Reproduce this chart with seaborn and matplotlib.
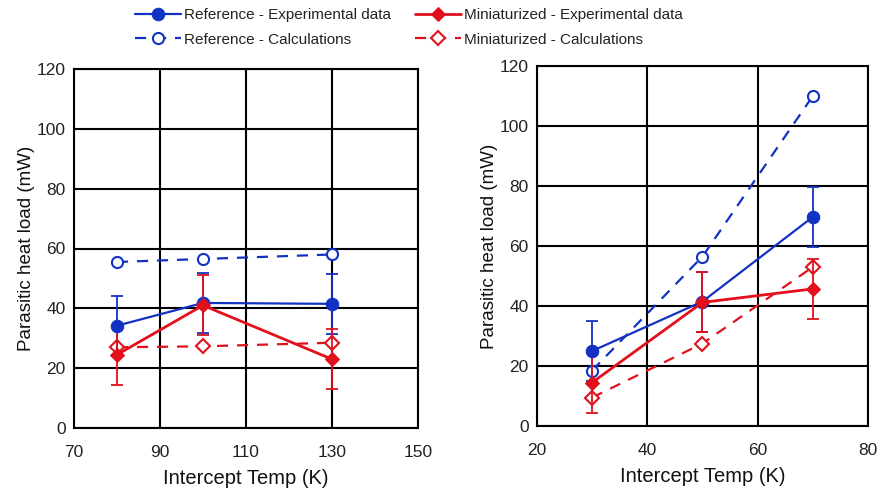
import matplotlib
matplotlib.use("Agg")
import matplotlib.pyplot as plt
import seaborn as sns
import pandas as pd

# left panel: intercept temperatures (K)
temp_left = [80, 100, 130]
ref_exp_left = [34.2, 41.8, 41.5]
ref_calc_left = [55.5, 56.5, 58.0]
mini_exp_left = [24.5, 41.0, 23.0]
mini_calc_left = [27.0, 27.3, 28.5]
err_left = [10, 10, 10]

# right panel
temp_right = [30, 50, 70]
ref_exp_right = [25.0, 41.5, 69.7]
ref_calc_right = [18.5, 56.5, 110.0]
mini_exp_right = [14.5, 41.2, 45.7]
mini_calc_right = [9.5, 27.5, 53.0]
err_right = [10, 10, 10]

BLUE = "#1232c4"
RED = "#e3101c"

sns.set_theme(style="white")
plt.rcParams["font.family"] = ["Liberation Sans", "DejaVu Sans"]

fig = plt.figure(figsize=(8.78, 4.92), dpi=100)
ax1 = fig.add_axes([74 / 878, 1 - 428 / 492, 344 / 878, 359 / 492])
ax2 = fig.add_axes([537 / 878, 1 - 426 / 492, 331 / 878, 360 / 492])


def draw(ax, x, ref_exp, ref_calc, mini_exp, mini_calc, err):
    df = pd.DataFrame({"x": x, "ref_exp": ref_exp, "ref_calc": ref_calc,
                       "mini_exp": mini_exp, "mini_calc": mini_calc})
    sns.lineplot(data=df, x="x", y="ref_calc", ax=ax, color=BLUE, lw=1.6,
                 linestyle=(0, (5, 4)), marker="o", markersize=8,
                 markerfacecolor="white", markeredgecolor=BLUE, markeredgewidth=1.5,
                 label="Reference - Calculations")
    sns.lineplot(data=df, x="x", y="mini_calc", ax=ax, color=RED, lw=1.6,
                 linestyle=(0, (5, 4)), marker="D", markersize=7,
                 markerfacecolor="white", markeredgecolor=RED, markeredgewidth=1.5,
                 label="Miniaturized - Calculations")
    ax.errorbar(x, ref_exp, yerr=err, fmt="none", ecolor=BLUE, elinewidth=1.3,
                capsize=4, capthick=1.3)
    ax.errorbar(x, mini_exp, yerr=err, fmt="none", ecolor=RED, elinewidth=1.3,
                capsize=4, capthick=1.3)
    sns.lineplot(data=df, x="x", y="ref_exp", ax=ax, color=BLUE, lw=1.6,
                 marker="o", markersize=9, markeredgecolor=BLUE,
                 label="Reference - Experimental data")
    sns.lineplot(data=df, x="x", y="mini_exp", ax=ax, color=RED, lw=2.0,
                 marker="D", markersize=7, markeredgecolor=RED,
                 label="Miniaturized - Experimental data")
    ax.set_ylim(0, 120)
    ax.set_yticks(range(0, 121, 20))
    ax.grid(True, color="black", lw=1.5)
    for s in ax.spines.values():
        s.set_color("black")
        s.set_linewidth(1.5)
    ax.tick_params(labelsize=12.5, colors="#222222", length=0)
    ax.tick_params(axis="x", pad=12)
    ax.tick_params(axis="y", pad=6)
    ax.set_xlabel("Intercept Temp (K)", fontsize=14.5, color="#111111", labelpad=7)
    ax.set_ylabel("Parasitic heat load (mW)", fontsize=13.5, color="#111111", labelpad=1)
    ax.get_legend().remove()


draw(ax1, temp_left, ref_exp_left, ref_calc_left, mini_exp_left, mini_calc_left, err_left)
ax1.set_xlim(70, 150)
ax1.set_xticks(range(70, 151, 20))

draw(ax2, temp_right, ref_exp_right, ref_calc_right, mini_exp_right, mini_calc_right, err_right)
ax2.set_xlim(20, 80)
ax2.set_xticks(range(20, 81, 20))

h, l = ax1.get_legend_handles_labels()
order = [l.index(n) for n in ["Reference - Experimental data", "Reference - Calculations",
                             "Miniaturized - Experimental data", "Miniaturized - Calculations"]]
fig.legend([h[i] for i in order], [l[i] for i in order], ncol=2, frameon=False,
           loc="upper left", bbox_to_anchor=(135 / 878, 1 - 8 / 492),
           borderaxespad=0, borderpad=0, fontsize=11,
           handlelength=3.0, columnspacing=1.6, labelspacing=0.7, handletextpad=0.2,
           labelcolor="#222222")

fig.savefig("out.png", dpi=100)
